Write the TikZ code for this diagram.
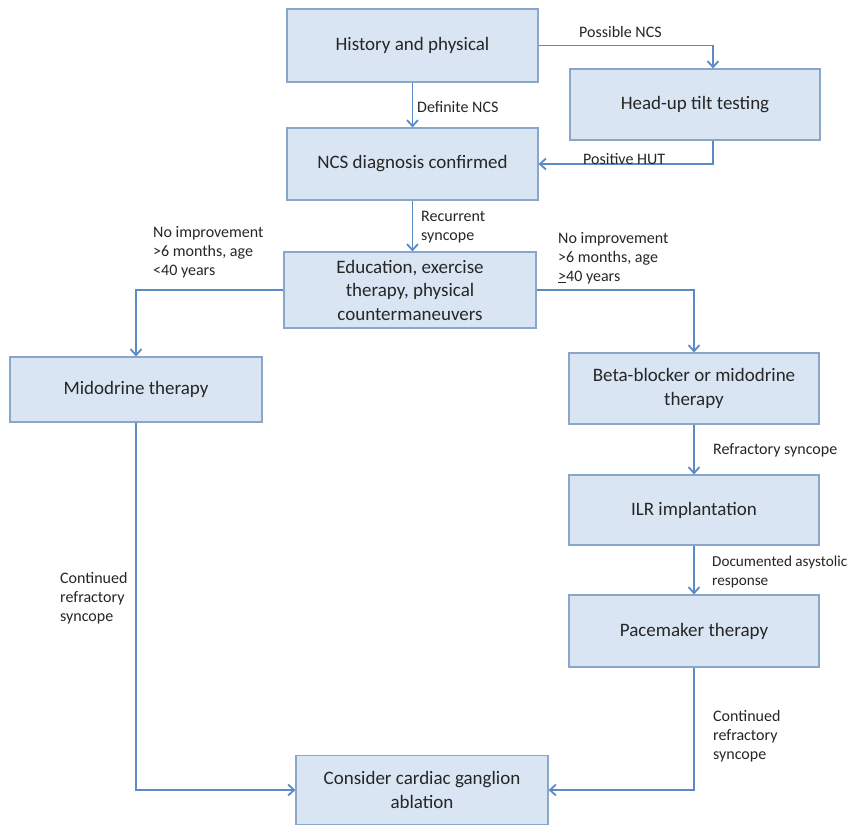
\documentclass[tikz,border=0pt]{standalone}
\usepackage{fontspec}
\setmainfont{Carlito}
\usetikzlibrary{arrows.meta,positioning,calc}
\definecolor{boxfill}{HTML}{D9E5F3}
\definecolor{boxline}{HTML}{8AA6C9}
\definecolor{arrowc}{HTML}{5B8BC5}
\definecolor{txt}{HTML}{262626}
\tikzset{
  flowbox/.style={draw=boxline, line width=1.2pt, fill=boxfill, align=center,
    inner sep=2pt, text=txt,
    font=\fontsize{19}{23.5}\selectfont},
  conn/.style={draw=arrowc, line width=1.8pt,
    -{Straight Barb[length=6pt,width=11pt,line width=1.8pt]}},
  lab/.style={anchor=west, align=left, text=txt, inner sep=0pt,
    font=\fontsize{16}{19}\selectfont}
}
\begin{document}
\begin{tikzpicture}[x=1pt,y=-1pt]
\useasboundingbox[fill=white] (0,0) rectangle (851,825);
% boxes
\node[flowbox, minimum width=251pt, minimum height=73pt] (hist) at (412.5,45.5) {History and physical};
\node[flowbox, minimum width=250pt, minimum height=71pt] (hut) at (695,104.5) {Head-up tilt testing};
\node[flowbox, minimum width=251pt, minimum height=72pt] (ncs) at (412.5,164) {NCS diagnosis confirmed};
\node[flowbox, minimum width=252pt, minimum height=76pt] (edu) at (410,290) {Education, exercise\\therapy, physical\\countermaneuvers};
\node[flowbox, minimum width=252pt, minimum height=65pt] (mid) at (136,389.5) {Midodrine therapy};
\node[flowbox, minimum width=250pt, minimum height=71pt] (beta) at (694,388.5) {Beta-blocker or midodrine\\therapy};
\node[flowbox, minimum width=250pt, minimum height=70pt] (ilr) at (694,510) {ILR implantation};
\node[flowbox, minimum width=250pt, minimum height=72pt] (pace) at (694,631) {Pacemaker therapy};
\node[flowbox, minimum width=252pt, minimum height=69pt] (abl) at (422,790) {Consider cardiac ganglion\\ablation};
% connector bend points
\coordinate (hutin) at ($(hut.north)+(18,0)$);
\coordinate (hutout) at ($(hut.south)+(18,0)$);
% connectors
\draw[conn] (hist.south) -- (ncs.north);
\draw[conn] (hist.east) -| (hutin);
\draw[conn] (hutout) |- (ncs.east);
\draw[conn] (ncs.south) -- (ncs.south |- edu.north);
\draw[conn] (edu.west) -| (mid.north);
\draw[conn] (edu.east) -| (beta.north);
\draw[conn] (beta.south) -- (ilr.north);
\draw[conn] (ilr.south) -- (pace.north);
\draw[conn] (pace.south) |- (abl.east);
\draw[conn] (mid.south) |- (abl.west);
% labels
\node[lab] (l1) at (579,32) {Possible NCS};
\node[lab] (l2) at (417,107) {Definite NCS};
\node[lab] (l3) at (583,159) {Positive HUT};
\node[lab] (l4) at (421,227) {Recurrent\\syncope};
\node[lab] (l5) at (153,252) {No improvement\\>6 months, age\\<40 years};
\node[lab] (l6) at (558,258) {No improvement\\>6 months, age\\\underline{>}40 years};
\node[lab] (l7) at (713,450) {Refractory syncope};
\node[lab, font=\fontsize{15.2}{19}\selectfont] (l8) at (712,572) {Documented asystolic\\response};
\node[lab] (l9) at (713,736) {Continued\\refractory\\syncope};
\node[lab] (l10) at (60,598) {Continued\\refractory\\syncope};
\end{tikzpicture}
\end{document}
